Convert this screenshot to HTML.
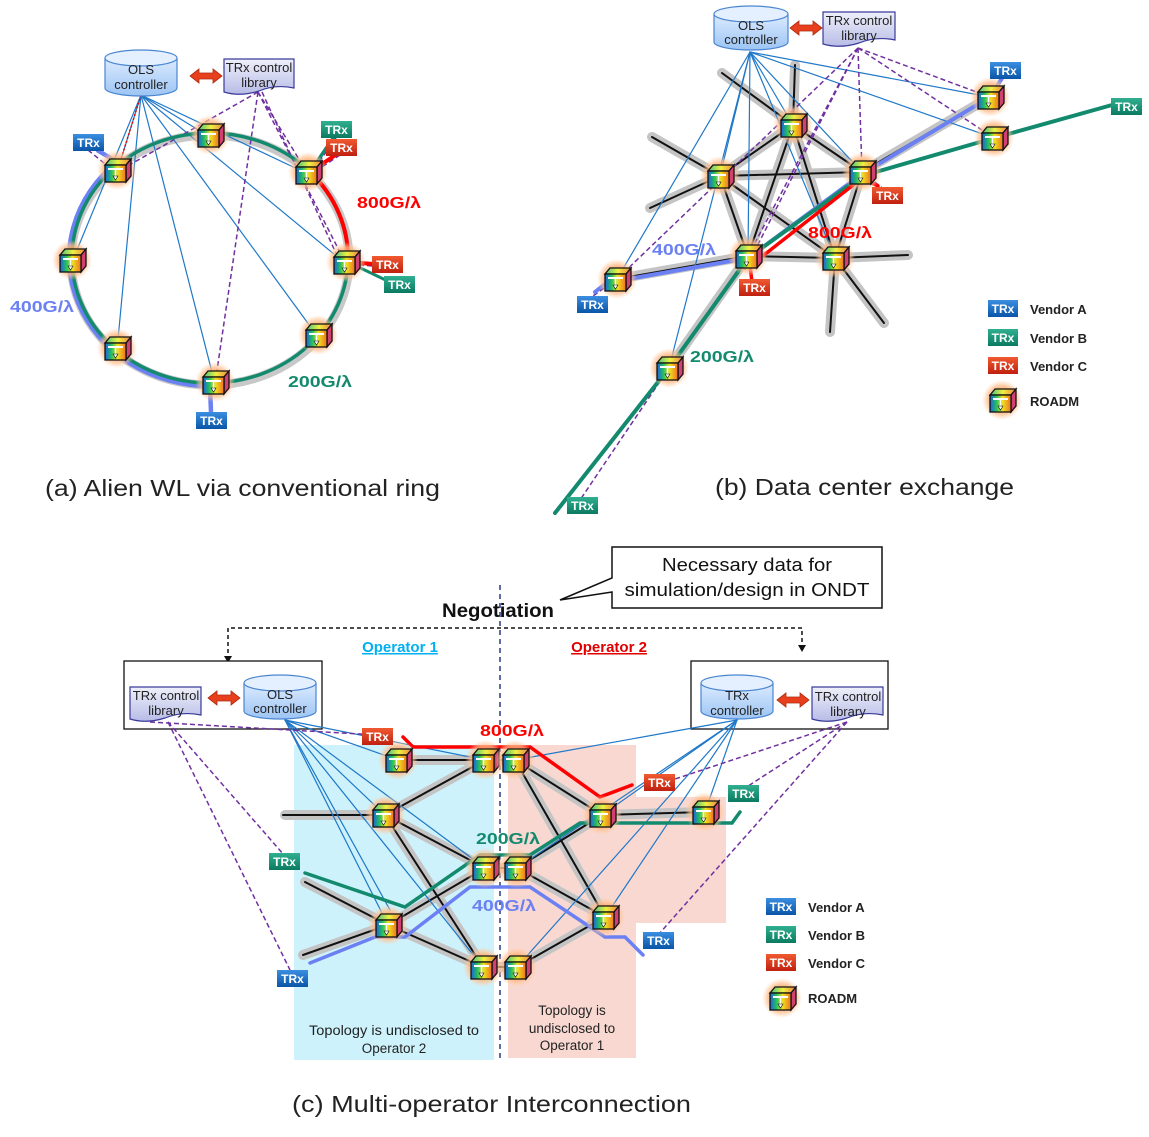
<!DOCTYPE html>
<html><head><meta charset="utf-8"><style>
html,body{margin:0;padding:0;background:#fff}
svg{display:block}
text{font-family:"Liberation Sans",sans-serif}
</style></head><body>
<svg width="1149" height="1137" viewBox="0 0 1149 1137" xmlns="http://www.w3.org/2000/svg">
<defs>
<radialGradient id="glow"><stop offset="0.45" stop-color="#ff9a50" stop-opacity="1"/><stop offset="0.75" stop-color="#ffc090" stop-opacity="0.7"/><stop offset="1" stop-color="#ffd0a8" stop-opacity="0"/></radialGradient>
<linearGradient id="rb" x1="0" x2="1" y1="0" y2="0"><stop offset="0" stop-color="#2060e0"/><stop offset="0.3" stop-color="#20c060"/><stop offset="0.6" stop-color="#f0e020"/><stop offset="1" stop-color="#f07020"/></linearGradient>
<linearGradient id="rbt" x1="0" x2="1"><stop offset="0" stop-color="#40c080"/><stop offset="0.5" stop-color="#f0f040"/><stop offset="1" stop-color="#f08040"/></linearGradient>
<linearGradient id="ta" x1="0" y1="0" x2="0" y2="1"><stop offset="0" stop-color="#3a8ee0"/><stop offset="1" stop-color="#0a55a8"/></linearGradient>
<linearGradient id="tb" x1="0" y1="0" x2="0" y2="1"><stop offset="0" stop-color="#30b090"/><stop offset="1" stop-color="#0a7a60"/></linearGradient>
<linearGradient id="tc" x1="0" y1="0" x2="0" y2="1"><stop offset="0" stop-color="#f05a30"/><stop offset="1" stop-color="#c02010"/></linearGradient>
<linearGradient id="cyl" x1="0" y1="0" x2="0" y2="1"><stop offset="0" stop-color="#dcebff"/><stop offset="1" stop-color="#9cc4f4"/></linearGradient>
<linearGradient id="lib" x1="0" y1="0" x2="0" y2="1"><stop offset="0" stop-color="#eef0fa"/><stop offset="1" stop-color="#b8bce6"/></linearGradient>
<g id="r">
<circle r="20" fill="url(#glow)"/>
<polygon points="-12,-5 -7,-11 14,-11 9,-5" fill="url(#rbt)" stroke="#111" stroke-width="1.3"/>
<polygon points="9,-5 14,-11 14,6 9,12" fill="#d04070" stroke="#111" stroke-width="1.3"/>
<rect x="-12" y="-5" width="21" height="17" fill="url(#rb)" stroke="#111" stroke-width="1.3"/>
<line x1="-9" y1="-1" x2="6" y2="-1" stroke="#fff" stroke-width="2"/>
<line x1="-1.5" y1="-1" x2="-1.5" y2="8" stroke="#fff" stroke-width="1.5"/>
<polygon points="-4,6 1,6 -1.5,10" fill="#fff" stroke="#111" stroke-width="0.6"/>
</g>
<g id="dar"><polygon points="0,0 9,-7 9,-3 23,-3 23,-7 32,0 23,7 23,3 9,3 9,7" fill="#e8401c" stroke="#b02a10" stroke-width="0.8"/></g>
</defs>

<!-- ================= PANEL A ================= -->
<g fill="none">
<ellipse cx="210" cy="260" rx="139" ry="125" stroke="#c8c8c8" stroke-width="9"/>
<g stroke="#1f78c8" stroke-width="1.2">
<line x1="141" y1="95" x2="117" y2="172"/><line x1="141" y1="95" x2="210" y2="137"/>
<line x1="141" y1="95" x2="308" y2="174"/><line x1="141" y1="95" x2="346" y2="264"/>
<line x1="141" y1="95" x2="318" y2="337"/><line x1="141" y1="95" x2="215" y2="384"/>
<line x1="141" y1="95" x2="117" y2="350"/><line x1="141" y1="95" x2="72" y2="262"/>
</g>
<line x1="141" y1="95" x2="117" y2="172" stroke="#e00" stroke-width="1.5" stroke-dasharray="2,2"/>
<g stroke="#7030a0" stroke-width="1.5" stroke-dasharray="5,3">
<line x1="258" y1="92" x2="117" y2="172"/><line x1="258" y1="92" x2="308" y2="174"/>
<line x1="258" y1="92" x2="346" y2="264"/><line x1="258" y1="92" x2="215" y2="384"/>
<line x1="262" y1="92" x2="340" y2="262"/>
<line x1="88" y1="150" x2="115" y2="172"/><line x1="336" y1="138" x2="310" y2="175"/>
<line x1="340" y1="155" x2="310" y2="175"/><line x1="372" y1="266" x2="350" y2="264"/>
</g>
<path d="M97,150 L117,162 A141,128 0 0 0 210,386 L211,412" stroke="#6b80f2" stroke-width="4.5"/>
<ellipse cx="210" cy="258" rx="138" ry="125" stroke="#138a6e" stroke-width="3.5"/>
<path d="M340,152 L310,172 A138,125 0 0 1 348,262 L373,264" stroke="#f00" stroke-width="4"/>
<path d="M336,134 L325,150 L310,172" stroke="#138a6e" stroke-width="3.5"/>
<path d="M348,262 L398,286" stroke="#138a6e" stroke-width="3"/>
</g>
<use href="#r" x="117" y="170"/><use href="#r" x="210" y="135"/><use href="#r" x="308" y="172"/>
<use href="#r" x="346" y="262"/><use href="#r" x="318" y="335"/><use href="#r" x="215" y="382"/>
<use href="#r" x="117" y="348"/><use href="#r" x="72" y="260"/>
<g font-size="12" font-weight="bold" fill="#fff" text-anchor="middle">
<rect x="73" y="134" width="31" height="17" fill="url(#ta)"/><text x="88.5" y="147">TRx</text>
<rect x="321" y="121" width="31" height="17" fill="url(#tb)"/><text x="336.5" y="134">TRx</text>
<rect x="326" y="139" width="31" height="17" fill="url(#tc)"/><text x="341.5" y="152">TRx</text>
<rect x="372" y="256" width="31" height="17" fill="url(#tc)"/><text x="387.5" y="269">TRx</text>
<rect x="384" y="276" width="31" height="17" fill="url(#tb)"/><text x="399.5" y="289">TRx</text>
<rect x="196" y="412" width="31" height="17" fill="url(#ta)"/><text x="211.5" y="425">TRx</text>
</g>
<path d="M105,58 L105,88 A36,8 0 0 0 177,88 L177,58" fill="url(#cyl)" stroke="#4a86d0" stroke-width="1.2"/>
<ellipse cx="141" cy="58" rx="36" ry="8" fill="#e4f0ff" stroke="#4a86d0" stroke-width="1.2"/>
<text x="141" y="74" font-size="13" text-anchor="middle" fill="#222">OLS</text>
<text x="141" y="89" font-size="13" text-anchor="middle" fill="#222">controller</text>
<use href="#dar" x="190" y="76"/>
<path d="M224,59 L294,59 L294,88 Q275,84 259,91 Q240,97 224,92 Z" fill="url(#lib)" stroke="#3a3a9a" stroke-width="1.2"/>
<text x="259" y="72" font-size="13" text-anchor="middle" fill="#222">TRx control</text>
<text x="259" y="87" font-size="13" text-anchor="middle" fill="#222">library</text>
<text x="357" y="208" font-size="16" font-weight="bold" fill="#f00" textLength="64" lengthAdjust="spacingAndGlyphs">800G/λ</text>
<text x="10" y="312" font-size="16" font-weight="bold" fill="#6b80f2" textLength="64" lengthAdjust="spacingAndGlyphs">400G/λ</text>
<text x="288" y="387" font-size="16" font-weight="bold" fill="#138a6e" textLength="64" lengthAdjust="spacingAndGlyphs">200G/λ</text>
<text x="45" y="496" font-size="23" fill="#222" textLength="395" lengthAdjust="spacingAndGlyphs">(a) Alien WL via conventional ring</text>

<!-- ================= PANEL B ================= -->
<g fill="none" stroke-linecap="round">
<g stroke="#c4c4c4" stroke-width="10">
<line x1="793" y1="125" x2="720" y2="176"/><line x1="793" y1="125" x2="862" y2="172"/>
<line x1="720" y1="176" x2="862" y2="172"/><line x1="720" y1="176" x2="748" y2="256"/>
<line x1="720" y1="176" x2="835" y2="258"/><line x1="793" y1="125" x2="748" y2="256"/>
<line x1="793" y1="125" x2="835" y2="258"/><line x1="862" y1="172" x2="835" y2="258"/>
<line x1="748" y1="256" x2="835" y2="258"/><line x1="793" y1="125" x2="795" y2="65"/>
<line x1="793" y1="125" x2="722" y2="73"/><line x1="720" y1="176" x2="652" y2="137"/>
<line x1="720" y1="176" x2="650" y2="208"/><line x1="748" y1="256" x2="617" y2="279"/>
<line x1="835" y1="258" x2="908" y2="255"/><line x1="835" y1="258" x2="830" y2="332"/>
<line x1="835" y1="258" x2="884" y2="323"/><line x1="862" y1="172" x2="990" y2="97"/>
<line x1="748" y1="256" x2="669" y2="368"/>
</g>
<g stroke="#111" stroke-width="2">
<line x1="793" y1="125" x2="720" y2="176"/><line x1="793" y1="125" x2="862" y2="172"/>
<line x1="720" y1="176" x2="862" y2="172"/><line x1="720" y1="176" x2="748" y2="256"/>
<line x1="720" y1="176" x2="835" y2="258"/><line x1="793" y1="125" x2="748" y2="256"/>
<line x1="793" y1="125" x2="835" y2="258"/><line x1="862" y1="172" x2="835" y2="258"/>
<line x1="748" y1="256" x2="835" y2="258"/><line x1="793" y1="125" x2="795" y2="65"/>
<line x1="793" y1="125" x2="722" y2="73"/><line x1="720" y1="176" x2="652" y2="137"/>
<line x1="720" y1="176" x2="650" y2="208"/><line x1="748" y1="256" x2="617" y2="279"/>
<line x1="835" y1="258" x2="908" y2="255"/><line x1="835" y1="258" x2="830" y2="332"/>
<line x1="835" y1="258" x2="884" y2="323"/><line x1="862" y1="172" x2="990" y2="97"/>
<line x1="748" y1="256" x2="669" y2="368"/>
</g>
<g stroke="#1f78c8" stroke-width="1.2">
<line x1="750" y1="52" x2="617" y2="279"/><line x1="750" y1="52" x2="669" y2="368"/>
<line x1="750" y1="52" x2="748" y2="256"/><line x1="750" y1="52" x2="835" y2="258"/>
<line x1="750" y1="52" x2="793" y2="125"/><line x1="750" y1="52" x2="862" y2="172"/>
<line x1="750" y1="52" x2="990" y2="97"/><line x1="750" y1="52" x2="994" y2="138"/>
<line x1="750" y1="52" x2="720" y2="176"/>
</g>
<g stroke="#7030a0" stroke-width="1.5" stroke-dasharray="5,3" stroke-linecap="butt">
<line x1="858" y1="48" x2="617" y2="279"/><line x1="858" y1="48" x2="748" y2="256"/>
<line x1="858" y1="48" x2="862" y2="172"/><line x1="858" y1="48" x2="990" y2="97"/>
<line x1="858" y1="48" x2="994" y2="138"/><line x1="858" y1="48" x2="745" y2="270"/>
<line x1="669" y1="368" x2="580" y2="500"/><line x1="617" y1="279" x2="593" y2="296"/>
<line x1="862" y1="172" x2="885" y2="190"/><line x1="748" y1="256" x2="753" y2="282"/>
</g>
<path d="M595,292 L605,284 L617,281 L748,258 L862,174 L990,97 L1004,75" stroke="#6b80f2" stroke-width="4"/>
<path d="M555,513 L669,368 L748,258 L862,176 L994,138 L1112,105" stroke="#138a6e" stroke-width="4"/>
<path d="M752,282 L750,266 L862,178 L878,186" stroke="#f00" stroke-width="3.5"/>
</g>
<use href="#r" x="793" y="125"/><use href="#r" x="720" y="176"/><use href="#r" x="862" y="172"/>
<use href="#r" x="748" y="256"/><use href="#r" x="835" y="258"/><use href="#r" x="617" y="279"/>
<use href="#r" x="669" y="368"/><use href="#r" x="990" y="97"/><use href="#r" x="994" y="138"/>
<g font-size="12" font-weight="bold" fill="#fff" text-anchor="middle">
<rect x="990" y="62" width="31" height="17" fill="url(#ta)"/><text x="1005.5" y="75">TRx</text>
<rect x="1111" y="98" width="31" height="17" fill="url(#tb)"/><text x="1126.5" y="111">TRx</text>
<rect x="872" y="187" width="31" height="17" fill="url(#tc)"/><text x="887.5" y="200">TRx</text>
<rect x="739" y="279" width="31" height="17" fill="url(#tc)"/><text x="754.5" y="292">TRx</text>
<rect x="577" y="296" width="31" height="17" fill="url(#ta)"/><text x="592.5" y="309">TRx</text>
<rect x="567" y="497" width="31" height="17" fill="url(#tb)"/><text x="582.5" y="510">TRx</text>
</g>
<path d="M714,14 L714,42 A37,8 0 0 0 788,42 L788,14" fill="url(#cyl)" stroke="#4a86d0" stroke-width="1.2"/>
<ellipse cx="751" cy="14" rx="37" ry="8" fill="#e4f0ff" stroke="#4a86d0" stroke-width="1.2"/>
<text x="751" y="30" font-size="13" text-anchor="middle" fill="#222">OLS</text>
<text x="751" y="44" font-size="13" text-anchor="middle" fill="#222">controller</text>
<use href="#dar" x="790" y="28"/>
<path d="M823,12 L895,12 L895,40 Q876,36 859,43 Q840,49 823,44 Z" fill="url(#lib)" stroke="#3a3a9a" stroke-width="1.2"/>
<text x="859" y="25" font-size="13" text-anchor="middle" fill="#222">TRx control</text>
<text x="859" y="40" font-size="13" text-anchor="middle" fill="#222">library</text>
<text x="652" y="255" font-size="16" font-weight="bold" fill="#6b80f2" textLength="64" lengthAdjust="spacingAndGlyphs">400G/λ</text>
<text x="808" y="238" font-size="16" font-weight="bold" fill="#f00" textLength="64" lengthAdjust="spacingAndGlyphs">800G/λ</text>
<text x="690" y="362" font-size="16" font-weight="bold" fill="#138a6e" textLength="64" lengthAdjust="spacingAndGlyphs">200G/λ</text>
<g font-size="12" font-weight="bold" fill="#fff" text-anchor="middle">
<rect x="988" y="300" width="30" height="17" fill="url(#ta)"/><text x="1003" y="313">TRx</text>
<rect x="988" y="329" width="30" height="17" fill="url(#tb)"/><text x="1003" y="342">TRx</text>
<rect x="988" y="357" width="30" height="17" fill="url(#tc)"/><text x="1003" y="370">TRx</text>
</g>
<use href="#r" x="1002" y="400"/>
<g font-size="13" font-weight="bold" fill="#222">
<text x="1030" y="314">Vendor A</text><text x="1030" y="343">Vendor B</text>
<text x="1030" y="371">Vendor C</text><text x="1030" y="406">ROADM</text>
</g>
<text x="715" y="495" font-size="23" fill="#222" textLength="299" lengthAdjust="spacingAndGlyphs">(b) Data center exchange</text>

<!-- ================= PANEL C ================= -->
<rect x="294" y="745" width="200" height="315" fill="#cdf2fb"/>
<path d="M508,745 L636,745 L636,797 L726,797 L726,923 L636,923 L636,1058 L508,1058 Z" fill="#f9d8d2"/>
<line x1="500" y1="585" x2="500" y2="1062" stroke="#2a3a8a" stroke-width="1.5" stroke-dasharray="5,4"/>
<path d="M612,547 L882,547 L882,608 L612,608 L612,592 L560,600 L612,578 Z" fill="#fff" stroke="#111" stroke-width="1.5"/>
<text x="747" y="571" font-size="18" text-anchor="middle" fill="#111" textLength="170" lengthAdjust="spacingAndGlyphs">Necessary data for</text>
<text x="747" y="596" font-size="18" text-anchor="middle" fill="#111" textLength="245" lengthAdjust="spacingAndGlyphs">simulation/design in ONDT</text>
<text x="498" y="617" font-size="19" font-weight="bold" text-anchor="middle" fill="#111" textLength="112" lengthAdjust="spacingAndGlyphs">Negotiation</text>
<path d="M228,660 L228,628 L802,628 L802,650" fill="none" stroke="#111" stroke-width="1.5" stroke-dasharray="4,3"/>
<polygon points="224,656 232,656 228,663" fill="#111"/><polygon points="798,645 806,645 802,652" fill="#111"/>
<text x="400" y="652" font-size="15" font-weight="bold" text-anchor="middle" fill="#00b0f0" text-decoration="underline">Operator 1</text>
<text x="609" y="652" font-size="15" font-weight="bold" text-anchor="middle" fill="#e00000" text-decoration="underline">Operator 2</text>
<rect x="124" y="661" width="198" height="68" fill="#fff" stroke="#111" stroke-width="1.3"/>
<rect x="691" y="661" width="197" height="68" fill="#fff" stroke="#111" stroke-width="1.3"/>

<g fill="none" stroke-linecap="round">
<g stroke="#c4c4c4" stroke-width="10">
<line x1="398" y1="760" x2="515" y2="760"/><line x1="485" y1="760" x2="385" y2="815"/>
<line x1="515" y1="760" x2="602" y2="815"/><line x1="515" y1="760" x2="605" y2="917"/>
<line x1="385" y1="815" x2="485" y2="868"/><line x1="385" y1="815" x2="483" y2="967"/>
<line x1="385" y1="815" x2="285" y2="815"/><line x1="602" y1="815" x2="705" y2="812"/>
<line x1="602" y1="815" x2="517" y2="868"/><line x1="517" y1="868" x2="605" y2="917"/>
<line x1="485" y1="868" x2="388" y2="925"/><line x1="388" y1="925" x2="483" y2="967"/>
<line x1="388" y1="925" x2="303" y2="955"/><line x1="305" y1="882" x2="388" y2="925"/>
<line x1="605" y1="917" x2="517" y2="967"/><line x1="485" y1="868" x2="517" y2="868"/>
<line x1="483" y1="967" x2="517" y2="967"/>
</g>
<g stroke="#111" stroke-width="2">
<line x1="398" y1="760" x2="515" y2="760"/><line x1="485" y1="760" x2="385" y2="815"/>
<line x1="515" y1="760" x2="602" y2="815"/><line x1="515" y1="760" x2="605" y2="917"/>
<line x1="385" y1="815" x2="485" y2="868"/><line x1="385" y1="815" x2="483" y2="967"/>
<line x1="385" y1="815" x2="283" y2="815"/><line x1="602" y1="815" x2="705" y2="812"/>
<line x1="602" y1="815" x2="517" y2="868"/><line x1="517" y1="868" x2="605" y2="917"/>
<line x1="485" y1="868" x2="388" y2="925"/><line x1="388" y1="925" x2="483" y2="967"/>
<line x1="388" y1="925" x2="303" y2="955"/><line x1="305" y1="882" x2="388" y2="925"/>
<line x1="605" y1="917" x2="517" y2="967"/><line x1="485" y1="868" x2="517" y2="868"/>
<line x1="483" y1="967" x2="517" y2="967"/>
</g>
<g stroke="#1f78c8" stroke-width="1.2">
<line x1="285" y1="720" x2="398" y2="760"/><line x1="285" y1="720" x2="485" y2="760"/>
<line x1="285" y1="720" x2="385" y2="815"/><line x1="285" y1="720" x2="485" y2="868"/>
<line x1="285" y1="720" x2="388" y2="925"/><line x1="285" y1="720" x2="483" y2="967"/>
<line x1="285" y1="720" x2="390" y2="910"/>
<line x1="737" y1="720" x2="515" y2="760"/><line x1="737" y1="720" x2="602" y2="815"/>
<line x1="737" y1="720" x2="705" y2="812"/><line x1="737" y1="720" x2="517" y2="868"/>
<line x1="737" y1="720" x2="605" y2="917"/><line x1="737" y1="720" x2="517" y2="967"/>
</g>
<g stroke="#7030a0" stroke-width="1.5" stroke-dasharray="5,3" stroke-linecap="butt">
<line x1="168" y1="722" x2="284" y2="855"/><line x1="168" y1="722" x2="290" y2="970"/>
<line x1="150" y1="722" x2="377" y2="735"/>
<line x1="847" y1="722" x2="742" y2="790"/><line x1="847" y1="722" x2="658" y2="935"/>
<line x1="847" y1="722" x2="672" y2="780"/>
</g>
<path d="M403,737 L413,747 L530,747 L600,797 L632,785" stroke="#f00" stroke-width="3.5"/>
<path d="M305,873 L405,907 L480,855 L530,855 L580,823 L732,823 L740,812" stroke="#138a6e" stroke-width="3.5"/>
<path d="M310,963 L375,937 L405,937 L470,887 L530,887 L605,937 L625,937 L643,955" stroke="#6b80f2" stroke-width="3.5"/>
</g>
<use href="#r" x="398" y="760"/><use href="#r" x="485" y="760"/><use href="#r" x="515" y="760"/>
<use href="#r" x="385" y="815"/><use href="#r" x="602" y="815"/><use href="#r" x="705" y="812"/>
<use href="#r" x="485" y="868"/><use href="#r" x="517" y="868"/><use href="#r" x="388" y="925"/>
<use href="#r" x="605" y="917"/><use href="#r" x="483" y="967"/><use href="#r" x="517" y="967"/>
<g font-size="12" font-weight="bold" fill="#fff" text-anchor="middle">
<rect x="362" y="728" width="31" height="17" fill="url(#tc)"/><text x="377.5" y="741">TRx</text>
<rect x="644" y="774" width="31" height="17" fill="url(#tc)"/><text x="659.5" y="787">TRx</text>
<rect x="728" y="785" width="31" height="17" fill="url(#tb)"/><text x="743.5" y="798">TRx</text>
<rect x="269" y="853" width="31" height="17" fill="url(#tb)"/><text x="284.5" y="866">TRx</text>
<rect x="277" y="970" width="31" height="17" fill="url(#ta)"/><text x="292.5" y="983">TRx</text>
<rect x="643" y="932" width="31" height="17" fill="url(#ta)"/><text x="658.5" y="945">TRx</text>
</g>
<path d="M130,687 L201,687 L201,715 Q182,711 165,718 Q146,724 130,719 Z" fill="url(#lib)" stroke="#3a3a9a" stroke-width="1.2"/>
<text x="166" y="700" font-size="13" text-anchor="middle" fill="#222">TRx control</text>
<text x="166" y="715" font-size="13" text-anchor="middle" fill="#222">library</text>
<use href="#dar" x="208" y="698"/>
<path d="M244,683 L244,711 A36,8 0 0 0 316,711 L316,683" fill="url(#cyl)" stroke="#4a86d0" stroke-width="1.2"/>
<ellipse cx="280" cy="683" rx="36" ry="8" fill="#e4f0ff" stroke="#4a86d0" stroke-width="1.2"/>
<text x="280" y="699" font-size="13" text-anchor="middle" fill="#222">OLS</text>
<text x="280" y="713" font-size="13" text-anchor="middle" fill="#222">controller</text>
<path d="M701,683 L701,711 A36,8 0 0 0 773,711 L773,683" fill="url(#cyl)" stroke="#4a86d0" stroke-width="1.2"/>
<ellipse cx="737" cy="683" rx="36" ry="8" fill="#e4f0ff" stroke="#4a86d0" stroke-width="1.2"/>
<text x="737" y="700" font-size="13" text-anchor="middle" fill="#222">TRx</text>
<text x="737" y="715" font-size="13" text-anchor="middle" fill="#222">controller</text>
<use href="#dar" x="777" y="700"/>
<path d="M812,687 L883,687 L883,715 Q864,711 847,718 Q828,724 812,719 Z" fill="url(#lib)" stroke="#3a3a9a" stroke-width="1.2"/>
<text x="848" y="701" font-size="13" text-anchor="middle" fill="#222">TRx control</text>
<text x="848" y="716" font-size="13" text-anchor="middle" fill="#222">library</text>
<text x="480" y="736" font-size="16" font-weight="bold" fill="#f00" textLength="64" lengthAdjust="spacingAndGlyphs">800G/λ</text>
<text x="476" y="844" font-size="16" font-weight="bold" fill="#138a6e" textLength="64" lengthAdjust="spacingAndGlyphs">200G/λ</text>
<text x="472" y="911" font-size="16" font-weight="bold" fill="#6b80f2" textLength="64" lengthAdjust="spacingAndGlyphs">400G/λ</text>
<g font-size="13.5" fill="#222" text-anchor="middle">
<text x="394" y="1035" textLength="170" lengthAdjust="spacingAndGlyphs">Topology is undisclosed to</text><text x="394" y="1053">Operator 2</text>
<text x="572" y="1015">Topology is</text><text x="572" y="1033">undisclosed to</text><text x="572" y="1050">Operator 1</text>
</g>
<g font-size="12" font-weight="bold" fill="#fff" text-anchor="middle">
<rect x="766" y="898" width="30" height="17" fill="url(#ta)"/><text x="781" y="911">TRx</text>
<rect x="766" y="926" width="30" height="17" fill="url(#tb)"/><text x="781" y="939">TRx</text>
<rect x="766" y="954" width="30" height="17" fill="url(#tc)"/><text x="781" y="967">TRx</text>
</g>
<use href="#r" x="782" y="998"/>
<g font-size="13" font-weight="bold" fill="#222">
<text x="808" y="912">Vendor A</text><text x="808" y="940">Vendor B</text>
<text x="808" y="968">Vendor C</text><text x="808" y="1003">ROADM</text>
</g>
<text x="292" y="1112" font-size="23" fill="#222" textLength="399" lengthAdjust="spacingAndGlyphs">(c) Multi-operator Interconnection</text>
</svg>
</body></html>
